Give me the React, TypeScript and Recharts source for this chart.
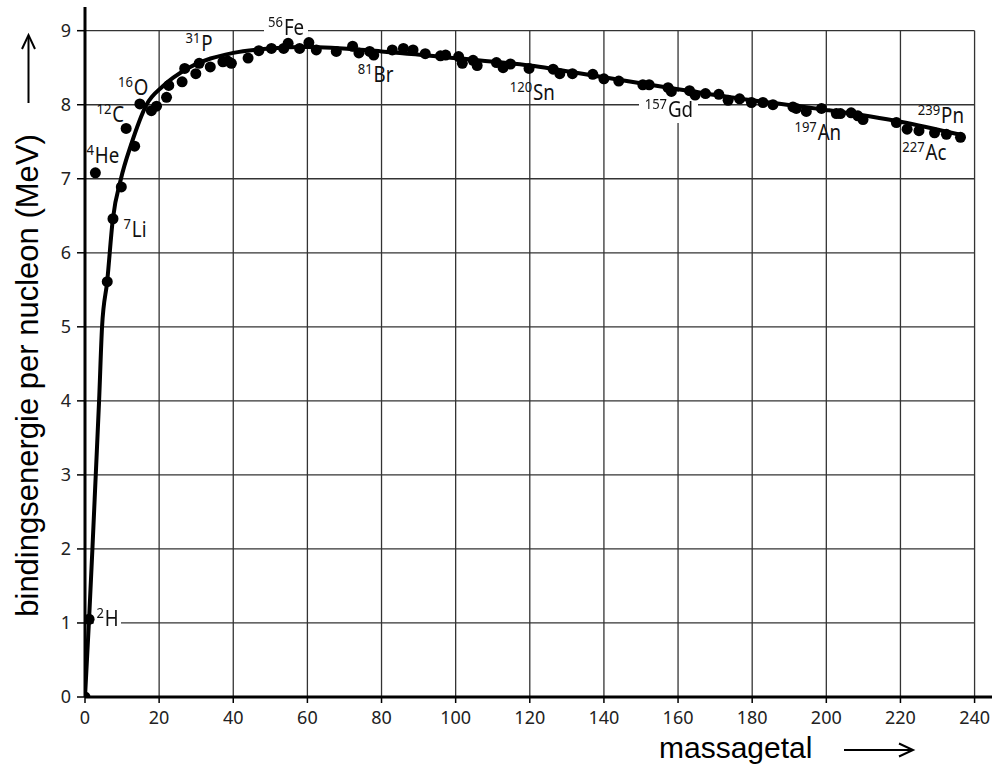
import React from 'react';
import { ComposedChart, Line, Scatter, XAxis, YAxis, CartesianGrid } from 'recharts';

const massTicks = [0, 20, 40, 60, 80, 100, 120, 140, 160, 180, 200, 220, 240];
const energyTicks = [0, 1, 2, 3, 4, 5, 6, 7, 8, 9];
const X_MAX = 244.7;
const Y_MAX = 9.32;
const GRID_X_END = 240;
const GRID_Y_END = 9;

// smooth fitted curve
const curveMass = [0, 1.1, 2.0, 2.9, 3.8, 4.6, 6.0, 7.5, 9.7, 12.5, 16.6, 21, 28, 40, 50, 60, 80, 100, 120, 140, 160, 180, 200, 220, 236.5];
const curveEnergy = [0, 1.05, 2.0, 3.0, 4.0, 5.0, 5.62, 6.45, 7.0, 7.47, 8.0, 8.25, 8.5, 8.7, 8.76, 8.78, 8.72, 8.63, 8.53, 8.37, 8.21, 8.06, 7.93, 7.77, 7.59];

// measured nuclides
const nuclideMass = [0, 1.1, 2.8, 6.0, 7.55, 9.8, 11.1, 13.4, 14.8, 17.9, 19.3, 22, 22.6, 26.2, 26.9, 29.9, 30.8, 33.8, 37.2, 38.5, 39.5, 44, 46.9, 50.3, 53.6, 54.8, 57.9, 60.4, 62.4, 67.8, 72.2, 73.9, 76.8, 77.9, 82.9, 85.9, 88.5, 91.8, 95.9, 97.3, 100.8, 101.8, 104.7, 105.8, 111, 112.8, 114.8, 119.8, 126.3, 128.1, 131.5, 137, 140, 144, 150.5, 152.2, 157.3, 158.2, 163.1, 164.6, 167.4, 171, 173.5, 176.6, 179.8, 182.9, 185.6, 191, 191.9, 194.6, 198.7, 202.7, 203.8, 206.7, 208.5, 209.9, 218.9, 221.8, 225, 229.2, 232.4, 236.2];
const nuclideEnergy = [0, 1.05, 7.08, 5.61, 6.46, 6.89, 7.68, 7.44, 8.01, 7.92, 7.98, 8.10, 8.26, 8.31, 8.49, 8.42, 8.56, 8.51, 8.58, 8.59, 8.56, 8.63, 8.73, 8.76, 8.76, 8.83, 8.76, 8.84, 8.74, 8.72, 8.79, 8.70, 8.72, 8.67, 8.74, 8.76, 8.74, 8.69, 8.66, 8.67, 8.65, 8.56, 8.60, 8.53, 8.57, 8.50, 8.55, 8.49, 8.48, 8.42, 8.42, 8.41, 8.35, 8.32, 8.27, 8.27, 8.23, 8.18, 8.19, 8.13, 8.15, 8.14, 8.06, 8.08, 8.03, 8.03, 8.00, 7.97, 7.95, 7.91, 7.95, 7.88, 7.88, 7.89, 7.85, 7.80, 7.76, 7.67, 7.65, 7.62, 7.60, 7.56];

// annotations (anchor = baseline-left of the label, in data units)
const labelMass = [0.4, 10.4, 3.1, 8.9, 27.1, 49.4, 73.6, 114.6, 151, 191.4, 224.7, 220.5, 3.1];
const labelEnergy = [7.21, 6.22, 7.77, 8.13, 8.73, 8.94, 8.31, 8.07, 7.84, 7.53, 7.75, 7.26, 0.96];
const labelSup = ['4', '7', '12', '16', '31', '56', '81', '120', '157', '197', '239', '227', '2'];
const labelSym = ['He', 'Li', 'C', 'O', 'P', 'Fe', 'Br', 'Sn', 'Gd', 'An', 'Pn', 'Ac', 'H'];
const labelBg = [false, false, false, false, false, true, false, false, true, false, false, false, true];

const curve = curveMass.map((x, i) => ({ x, y: curveEnergy[i] }));
const nuclides = nuclideMass.map((x, i) => ({ x, y: nuclideEnergy[i] }));
const labels = labelMass.map((x, i) => ({ x, y: labelEnergy[i], sup: labelSup[i], sym: labelSym[i], bg: labelBg[i], id: i }));

const FONT = "'Noto Sans', 'DejaVu Sans', sans-serif";
const TITLE_FONT = "'Liberation Sans', Arial, sans-serif";

const LabelShape = (props: any) => {
  const { cx, cy, payload } = props;
  if (cx == null || cy == null) return <g />;
  const fid = `wbg-${payload.id}`;
  return (
    <g>
      {payload.bg && (
        <defs>
          <filter id={fid} x="-0.1" y="0" width="1.2" height="1" colorInterpolationFilters="sRGB">
            <feFlood floodColor="#ffffff" floodOpacity={1} result="bg" />
            <feMerge>
              <feMergeNode in="bg" />
              <feMergeNode in="SourceGraphic" />
            </feMerge>
          </filter>
        </defs>
      )}
      <g transform={`translate(${cx},${cy}) scale(0.87,1)`}>
        <text x={0} y={0} fill="#111" fontFamily={FONT} filter={payload.bg ? `url(#${fid})` : undefined}>
          <tspan fontSize={15} dy={-8}>{payload.sup}</tspan>
          <tspan fontSize={21.5} dy={8} dx={1}>{payload.sym}</tspan>
        </text>
      </g>
    </g>
  );
};

const DotShape = (props: any) => {
  const { cx, cy } = props;
  if (cx == null || cy == null) return <g />;
  return <circle cx={cx} cy={cy} r={5.5} fill="#000" />;
};

const HLine = (props: any) => {
  const { x1, x2, y1, y2, index } = props;
  const xe = x1 + ((x2 - x1) * GRID_X_END) / X_MAX;
  return <line key={`h-${index}`} x1={x1} x2={xe} y1={y1} y2={y2} stroke="#333" strokeWidth={1.3} />;
};

const VLine = (props: any) => {
  const { x1, x2, y1, y2, index } = props;
  const top = Math.min(y1, y2);
  const bottom = Math.max(y1, y2);
  const ys = bottom - ((bottom - top) * GRID_Y_END) / Y_MAX;
  return <line key={`v-${index}`} x1={x1} x2={x2} y1={ys} y2={bottom} stroke="#333" strokeWidth={1.3} />;
};

const XTitle = () => (
  <g>
    <text x={659} y={758} fontFamily={TITLE_FONT} fontSize={30} fill="#000">massagetal</text>
    <line x1={844} y1={750} x2={912} y2={750} stroke="#000" strokeWidth={2} />
    <polyline points="899,743.5 913,750 899,756.5" fill="none" stroke="#000" strokeWidth={2} />
  </g>
);

const YTitle = () => (
  <g>
    <text
      x={38}
      y={375.5}
      transform="rotate(-90 38 375.5)"
      textAnchor="middle"
      fontFamily={TITLE_FONT}
      fontSize={31}
      fill="#000"
    >
      bindingsenergie per nucleon (MeV)
    </text>
    <line x1={28.5} y1={103} x2={28.5} y2={36} stroke="#000" strokeWidth={2} />
    <polyline points="22,49 28.5,35 35,49" fill="none" stroke="#000" strokeWidth={2} />
  </g>
);

export default function App() {
  return (
    <div style={{ position: 'absolute', left: 0, top: 0, background: '#fff' }}>
      <ComposedChart width={992} height={766} margin={{ top: 7, right: 0, bottom: 29, left: 25 }}>
        <CartesianGrid horizontal={HLine} vertical={VLine} fill="none" syncWithTicks />
        <XAxis
          type="number"
          dataKey="x"
          domain={[0, X_MAX]}
          ticks={massTicks}
          allowDataOverflow
          interval={0}
          height={40}
          tickSize={6}
          tickMargin={8}
          axisLine={{ stroke: '#000', strokeWidth: 3 }}
          tickLine={{ stroke: '#000', strokeWidth: 1.5 }}
          tick={{ fill: '#222', fontSize: 18, fontFamily: FONT }}
          label={{ content: () => <XTitle /> }}
        />
        <YAxis
          type="number"
          dataKey="y"
          domain={[0, Y_MAX]}
          ticks={energyTicks}
          allowDataOverflow
          interval={0}
          width={60}
          tickSize={8}
          tickMargin={6}
          axisLine={{ stroke: '#000', strokeWidth: 3 }}
          tickLine={{ stroke: '#000', strokeWidth: 1.5 }}
          tick={{ fill: '#222', fontSize: 18, fontFamily: FONT }}
          label={{ content: () => <YTitle /> }}
        />
        <Scatter data={labels} shape={LabelShape} isAnimationActive={false} zIndex={350} />
        <Line
          data={curve}
          dataKey="y"
          type="monotone"
          stroke="#000"
          strokeWidth={4}
          dot={false}
          activeDot={false}
          isAnimationActive={false}
        />
        <Scatter data={nuclides} shape={DotShape} isAnimationActive={false} />
      </ComposedChart>
    </div>
  );
}
